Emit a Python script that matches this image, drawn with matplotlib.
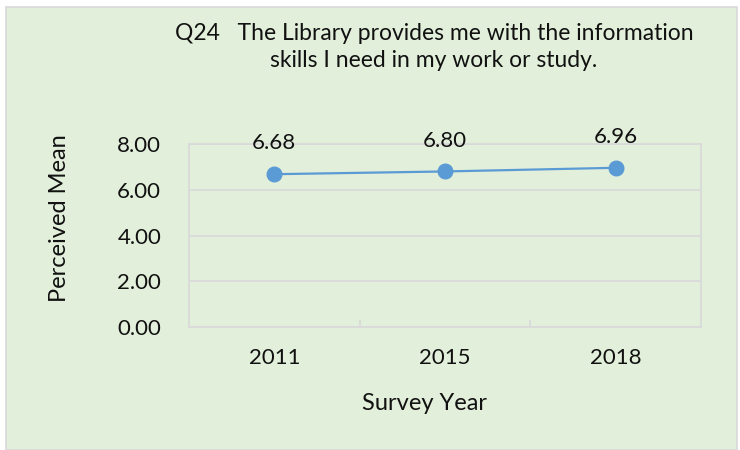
import matplotlib.pyplot as plt
from matplotlib.patches import Rectangle

years = ["2011", "2015", "2018"]
means = [6.68, 6.80, 6.96]
y_ticks = [0, 2, 4, 6, 8]

plt.rcParams['font.family'] = ['Lato', 'DejaVu Sans']

fig = plt.figure(figsize=(7.4, 4.5), dpi=100)
fig.patch.set_facecolor('white')

# green chart area with thin grey border
box = Rectangle((6 / 740, 0), 731 / 740, 443 / 450, transform=fig.transFigure,
                facecolor='#E2EFDA', edgecolor='#D9D9D9', linewidth=1.2, zorder=-10)
fig.patches.append(box)

ax = fig.add_axes([189 / 740, 123 / 450, 512 / 740, 183 / 450])
ax.set_facecolor('none')

x = list(range(len(years)))
ax.plot(x, means, color='#5B9BD5', linewidth=1.6, marker='o', markersize=10.5, zorder=3)
for xi, v in zip(x, means):
    ax.annotate(f"{v:.2f}", (xi, v), xytext=(0, 15), textcoords='offset points',
                ha='center', va='bottom', fontsize=16, color='#111111')

ax.set_xlim(-0.5, 2.5)
ax.set_ylim(0, 8)
ax.set_yticks(y_ticks)
ax.set_yticklabels([f"{t:.2f}" for t in y_ticks], fontsize=16, color='#111111')
ax.set_xticks(x)
ax.set_xticklabels(years, fontsize=16, color='#111111')
ax.set_xticks([0.5, 1.5], minor=True)
ax.tick_params(axis='x', which='major', length=0, pad=15)
ax.tick_params(axis='x', which='minor', length=5, direction='in', color='#D9D9D9', width=1.2)
ax.tick_params(axis='y', length=0, pad=20)

ax.grid(axis='y', color='#D9D9D9', linewidth=1.2)
ax.set_axisbelow(True)
for s in ax.spines.values():
    s.set_color('#D9D9D9')
    s.set_linewidth(1.2)

fig.text(434 / 740, 1 - 47 / 450,
         "Q24   The Library provides me with the information\nskills I need in my work or study.",
         ha='center', va='center', fontsize=16.5, linespacing=1.4, color='#111111')
fig.text(60 / 740, 1 - 218 / 450, "Perceived Mean", rotation=90,
         ha='center', va='center', fontsize=17, color='#111111')
fig.text(425 / 740, 1 - 404 / 450, "Survey Year",
         ha='center', va='center', fontsize=17, color='#111111')

plt.savefig("out.png", dpi=100)
